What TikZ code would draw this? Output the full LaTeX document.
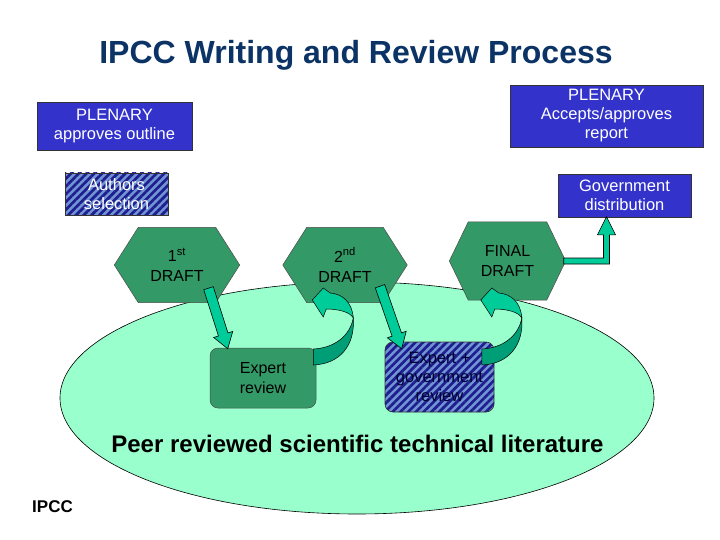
\documentclass[tikz,border=0pt]{standalone}
\usepackage{fontspec}
\setmainfont{Liberation Sans}
\usetikzlibrary{calc,patterns.meta}
\pgfdeclarelayer{bg}
\pgfdeclarelayer{mid}
\pgfsetlayers{bg,mid,main}
\definecolor{plenblue}{HTML}{3333CC}
\definecolor{hexgreen}{HTML}{339966}
\definecolor{mint}{HTML}{99FFCC}
\definecolor{arrgreen}{HTML}{00CC99}
\definecolor{arrdark}{HTML}{009E76}
\definecolor{hatchlight}{HTML}{7094D4}
\definecolor{hatchdark}{HTML}{1E1E8E}
\definecolor{titleblue}{HTML}{0B3366}
\definecolor{navytext}{HTML}{000033}
\tikzset{
  boxtext/.style={align=center, inner sep=0pt, font=\fontsize{16.5}{19}\selectfont},
  bluebox/.style={boxtext, draw=black!80, line width=0.6pt, fill=plenblue, text=white},
  hatchbox/.style={boxtext, draw=black!80, line width=0.6pt, preaction={fill=hatchlight},
    pattern={Lines[angle=45,distance=5.5pt,line width=2.7pt]}, pattern color=hatchdark},
  hexlabel/.style={inner sep=0pt, align=center, font=\fontsize{16}{20}\selectfont},
  hexshape/.style={fill=hexgreen, draw=black!70, line width=0.5pt},
  greenbox/.style={boxtext, font=\fontsize{16}{20}\selectfont, fill=hexgreen, draw=black!70, line width=0.5pt, rounded corners=8pt},
  arrowfill/.style={fill=arrgreen, draw=black, line width=0.6pt, line join=miter},
  curvedarr/.pic={
    \path[fill=arrdark, draw=black, line width=0.5pt] (0,-8) -- (0,8)
      .. controls (27,7) and (42,-12) .. (40,-39)
      .. controls (37,-22) and (22,-9) .. (0,-8) -- cycle;
    \path[fill=arrgreen, draw=black, line width=0.5pt] (40,-39)
      .. controls (39,-55) and (29,-63) .. (17,-64) -- (10,-69) -- (-1,-57) -- (10,-40) -- (13,-48)
      .. controls (25,-48) and (37,-45) .. (40,-39) -- cycle;
  }
}
\newcommand\myblockarrow[2]{%
  \coordinate (ba-h) at ($(#2)!15pt!(#1)$);
  \draw[arrowfill] ($(#1)!5pt!90:(#2)$) -- ($(ba-h)!5pt!-90:(#1)$) -- ($(ba-h)!10pt!-90:(#1)$)
    -- (#2) -- ($(ba-h)!10pt!90:(#1)$) -- ($(ba-h)!5pt!90:(#1)$) -- ($(#1)!5pt!-90:(#2)$) -- cycle;}
\begin{document}
\begin{tikzpicture}[x=1pt,y=-1pt]
\useasboundingbox (0,0) rectangle (720,540);
\begin{pgfonlayer}{bg}
  \fill[white] (0,0) rectangle (720,540);
  \draw[fill=mint, draw=black, line width=0.6pt] (357,398) ellipse [x radius=297pt, y radius=116pt];
\end{pgfonlayer}

\node[inner sep=0pt, anchor=base, text=titleblue, font=\fontsize{32}{38}\selectfont\bfseries] (title) at (356,64) {IPCC Writing and Review Process};

\node[bluebox, minimum width=155pt, minimum height=48pt] (pl1) at (114.5,126) {PLENARY\\approves outline};
\node[bluebox, minimum width=193pt, minimum height=62pt] (pl2) at (606.5,116) {PLENARY\\Accepts/approves\\report};
\node[hatchbox, text=white, minimum width=103pt, minimum height=42pt] (auth) at (116.5,194) {Authors\\selection};
\node[bluebox, minimum width=133pt, minimum height=43pt] (gov) at (624.5,195.5) {Government\\distribution};

\node[hexlabel, minimum width=125pt, minimum height=75pt] (d1) at (177,265) {1\textsuperscript{st}\\DRAFT};
\node[hexlabel, minimum width=124pt, minimum height=75pt] (d2) at (345,265) {2\textsuperscript{nd}\\DRAFT};
\node[hexlabel, minimum width=116pt, minimum height=78pt] (d3) at (507.5,261) {FINAL\\DRAFT};

\begin{pgfonlayer}{mid}
  \foreach \n/\i in {d1/24,d2/24,d3/19}
    \draw[hexshape] (\n.west) -- ($(\n.north west)+(\i,0)$) -- ($(\n.north east)+(-\i,0)$) -- (\n.east)
      -- ($(\n.south east)+(-\i,0)$) -- ($(\n.south west)+(\i,0)$) -- cycle;
\end{pgfonlayer}

\node[greenbox, minimum width=106pt, minimum height=60pt] (exp1) at (263,378) {Expert\\review};
\node[hatchbox, text=navytext, rounded corners=8pt, minimum width=109pt, minimum height=70pt] (exp2) at (439.5,377) {Expert +\\government\\review};

\node[inner sep=0pt, anchor=base, font=\fontsize{24}{28}\selectfont\bfseries] (peer) at (357.5,452) {Peer reviewed scientific technical literature};
\node[inner sep=0pt, anchor=base west, font=\fontsize{17}{20}\selectfont\bfseries] (ipcc) at (32,512) {IPCC};

% straight block arrows
\coordinate (a1s) at ($(d1.south)+(31.5,-14.5)$);
\coordinate (a1t) at ($(exp1.north west)+(18,1)$);
\myblockarrow{a1s}{a1t}
\coordinate (a2s) at ($(d2.south)+(35,-16.5)$);
\coordinate (a2t) at ($(exp2.north west)+(17,7)$);
\myblockarrow{a2s}{a2t}

% curved arrows back to drafts
\pic at ($(exp1.east)+(-3,-21)$) {curvedarr};
\pic at ($(exp2.east)+(-12.5,-20)$) {curvedarr};

% elbow arrow to government distribution
\coordinate (gt) at ($(gov.south)+(-18,-0.5)$);
\draw[arrowfill] ($(d3.east)+(-2,-3)$) -- ($(gt|-d3.east)+(-3,-3)$) -- ($(gt)+(-3,18)$) -- ($(gt)+(-9,18)$)
  -- (gt) -- ($(gt)+(9,18)$) -- ($(gt)+(3,18)$) -- ($(gt|-d3.east)+(3,3)$) -- ($(d3.east)+(-2,3)$) -- cycle;
\end{tikzpicture}
\end{document}
